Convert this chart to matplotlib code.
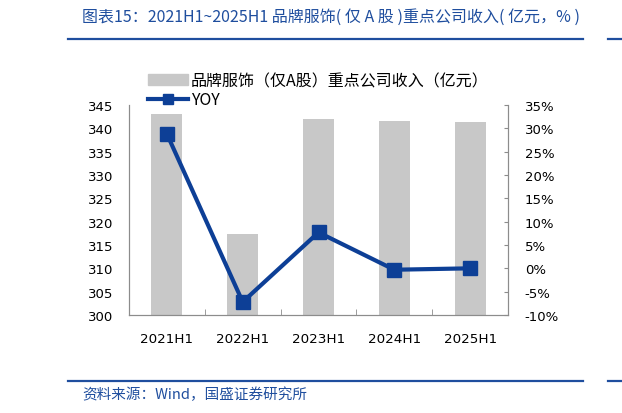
import matplotlib.pyplot as plt
from matplotlib.lines import Line2D
from matplotlib.patches import Patch
import numpy as np

plt.rcParams["font.family"] = ["DejaVu Sans", "Noto Sans CJK SC"]

# 数据
periods = ["2021H1", "2022H1", "2023H1", "2024H1", "2025H1"]
revenue = [343.0, 317.4, 341.9, 341.5, 341.3]  # 亿元
yoy = [28.8, -7.2, 7.7, -0.3, 0.0]  # %

bar_name = "品牌服饰（仅A股）重点公司收入（亿元）"
line_name = "YOY"
title = "图表15：2021H1~2025H1 品牌服饰( 仅 A 股 )重点公司收入( 亿元，% )"
source = "资料来源：Wind，国盛证券研究所"

blue = "#0D3F96"
title_blue = "#1F4E9E"
grey = "#C8C8C8"
axis_grey = "#8C8C8C"

fig = plt.figure(figsize=(6.22, 4.14), dpi=100)
W, H = 622, 414

ax = fig.add_axes([129 / W, 1 - 316 / H, (508 - 129) / W, (316 - 106) / H])
x = np.arange(len(periods))

# 柱状图 (左轴)
ax.bar(x, revenue, width=0.41, color=grey, zorder=1)
ax.set_ylim(300, 345)
ax.set_yticks(np.arange(300, 346, 5))
ax.set_xlim(-0.5, len(periods) - 0.5)
ax.set_xticks(x)
ax.set_xticklabels(periods, fontsize=9.7)
ax.set_xticks(np.arange(-0.5, len(periods), 1), minor=True)
ax.tick_params(axis="x", which="major", length=0, pad=12)
ax.tick_params(axis="x", which="minor", length=4, direction="in", color=axis_grey)
ax.tick_params(axis="y", length=0, labelsize=9.5, pad=11.5)

# 折线 (右轴)
ax2 = ax.twinx()
ax2.plot(x, yoy, color=blue, lw=3, marker="s", markersize=10.5, zorder=3)
ax2.set_ylim(-10, 35)
ax2.set_yticks(np.arange(-10, 36, 5))
ax2.set_yticklabels([f"{v}%" for v in range(-10, 36, 5)])
ax2.tick_params(axis="y", length=3, direction="in", color=axis_grey,
                labelsize=9.5, pad=12)

for a in (ax, ax2):
    a.spines["top"].set_visible(False)
    for s in ("left", "right", "bottom"):
        a.spines[s].set_color(axis_grey)
        a.spines[s].set_linewidth(0.8)

# 图例
handles = [
    Patch(color=grey),
    Line2D([], [], color=blue, lw=3, marker="s", markersize=7),
]
fig.legend(handles, [bar_name, line_name], loc="upper left",
           bbox_to_anchor=(140 / W, 1 - 65 / H), frameon=False,
           prop={"family": ["Noto Sans CJK SC", "DejaVu Sans"], "size": 11.5},
           handlelength=2.5, handleheight=0.7, handletextpad=0.2,
           labelspacing=0.15, borderpad=0)

# 标题与来源
fig.text(82 / W, 1 - 17 / H, title, color=title_blue, fontsize=11.5,
         va="center", ha="left", style="italic",
         family=["Noto Sans CJK SC", "DejaVu Sans"])
for yy in (40, 382):
    fig.add_artist(Line2D([68 / W, 583 / W], [1 - yy / H, 1 - yy / H],
                          color=title_blue, lw=1.6))
    fig.add_artist(Line2D([608 / W, 1.0], [1 - yy / H, 1 - yy / H],
                          color=title_blue, lw=1.6))
fig.text(82 / W, 1 - 395 / H, source, color=title_blue, fontsize=10.5,
         va="center", ha="left", style="italic",
         family=["Noto Sans CJK SC", "DejaVu Sans"])

fig.savefig("out.png", dpi=100)
